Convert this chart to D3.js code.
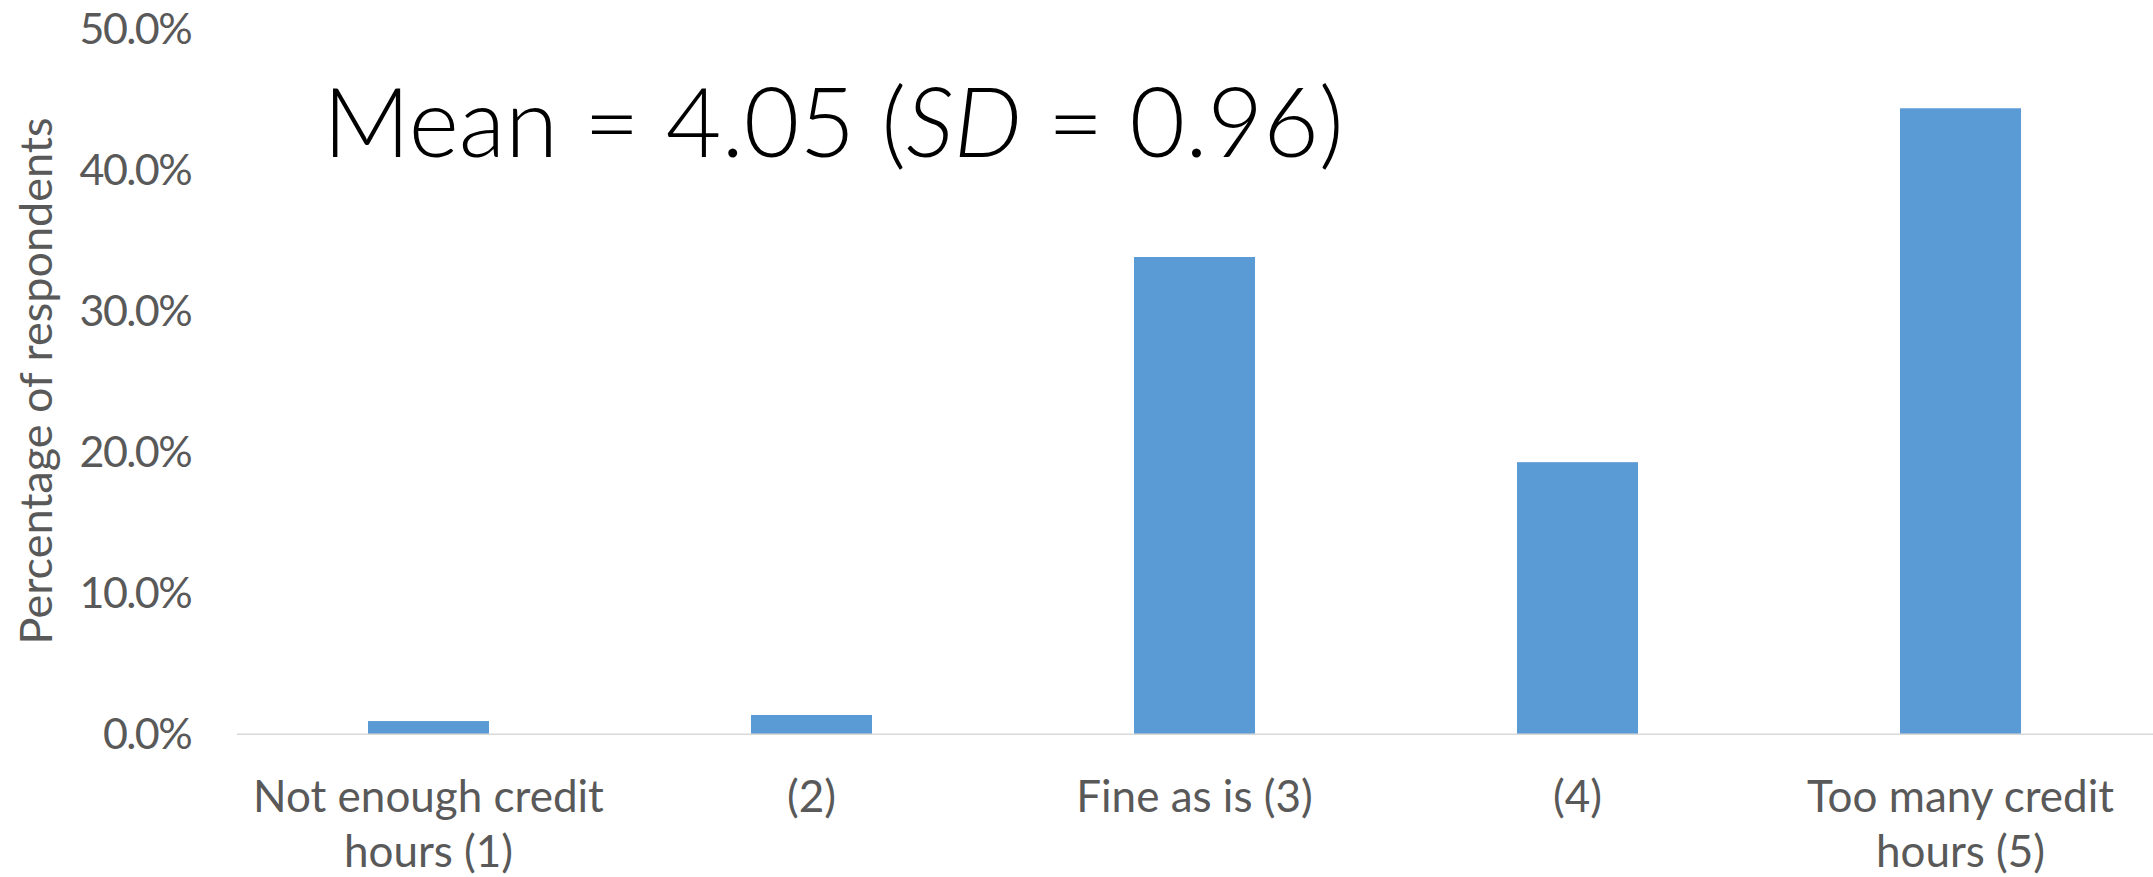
<!DOCTYPE html>
<html>
<head>
<meta charset="utf-8">
<script src="https://cdn.jsdelivr.net/npm/d3@7"></script>
<style>
  html, body { margin: 0; padding: 0; background: #fff; }
  svg { display: block; }
</style>
</head>
<body>
<svg id="chart" width="2153" height="877"></svg>
<script>
// ---- data ----
const categories = ["Not enough credit|hours (1)", "(2)", "Fine as is (3)", "(4)", "Too many credit|hours (5)"];
const values = [0.94, 1.37, 33.85, 19.3, 44.4]; // percent of respondents
const yTicks = [0, 10, 20, 30, 40, 50];
const yTitle = "Percentage of respondents";
const titleParts = [["Mean = 4.05 (", false], ["SD", true], [" = 0.96)", false]];

// ---- layout ----
const W = 2153, H = 877;
const FONT = "Lato, 'Open Sans', sans-serif";
const AX = 44;
const svg = d3.select("#chart");

const x = d3.scaleBand().domain(d3.range(categories.length))
  .range([237, 2152]).paddingInner(0.684).paddingOuter(0.342);
const y = d3.scaleLinear().domain([0, 50]).range([734.3, 29.3]);

// bars
svg.append("g").selectAll("rect").data(values).join("rect")
  .attr("x", (d, i) => x(i))
  .attr("width", x.bandwidth())
  .attr("y", d => y(d))
  .attr("height", d => y(0) - y(d))
  .attr("fill", "#5B9BD5");

// x axis line
svg.append("line")
  .attr("x1", 237).attr("x2", W)
  .attr("y1", y(0)).attr("y2", y(0))
  .attr("stroke", "#D9D9D9").attr("stroke-width", 1.6);

// y tick labels
svg.append("g").selectAll("text").data(yTicks).join("text")
  .attr("x", 191)
  .attr("y", d => y(d) + 15)
  .attr("text-anchor", "end")
  .attr("font-family", FONT).attr("font-size", 43)
  .attr("letter-spacing", -1.6)
  .attr("fill", "#595959")
  .text(d => d.toFixed(1) + "%");

// x category labels
const xl = svg.append("g").selectAll("text").data(categories).join("text")
  .attr("text-anchor", "middle")
  .attr("font-family", FONT).attr("font-size", AX)
  .attr("fill", "#595959");
xl.each(function(d, i) {
  const lines = d.split("|");
  const t = d3.select(this);
  lines.forEach((ln, k) => {
    t.append("tspan")
      .attr("x", x(i) + x.bandwidth() / 2)
      .attr("y", 812 + k * 55)
      .text(ln);
  });
});

// y axis title
svg.append("text")
  .attr("transform", "translate(52,381) rotate(-90)")
  .attr("text-anchor", "middle")
  .attr("font-family", FONT).attr("font-size", 45)
  .attr("fill", "#595959")
  .text(yTitle);

// annotation title
const tt = svg.append("text")
  .attr("x", 323).attr("y", 157)
  .attr("font-family", FONT).attr("font-weight", 300)
  .attr("font-size", 96)
  .attr("fill", "#000");
titleParts.forEach(([s, it]) => {
  tt.append("tspan").attr("font-style", it ? "italic" : "normal").text(s);
});
</script>
</body>
</html>
